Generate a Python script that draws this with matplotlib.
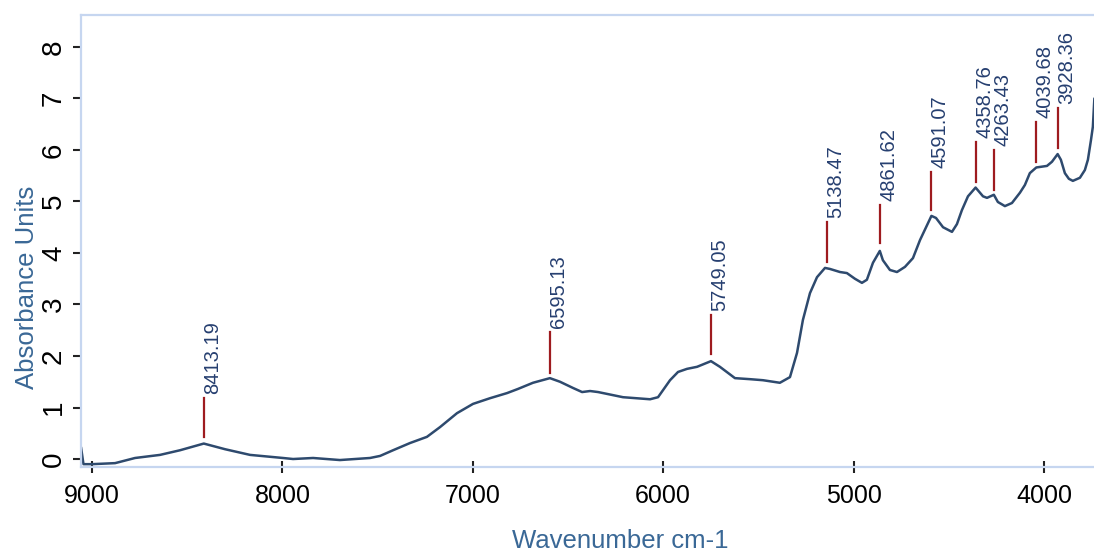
import matplotlib
matplotlib.use("Agg")
import matplotlib.pyplot as plt
import numpy as np

plt.rcParams['font.family'] = ['Liberation Sans', 'DejaVu Sans']

# spectrum (wavenumber, absorbance)
wavenumber = [9058, 9045, 9000, 8879, 8774, 8643, 8538, 8413, 8301, 8170,
              7997, 7944, 7839, 7698, 7540, 7487, 7419, 7330, 7241, 7172,
              7083, 6999, 6910, 6820, 6763, 6684, 6595, 6542, 6474, 6426,
              6384, 6342, 6211, 6069, 6027, 5964, 5922, 5875, 5822, 5749,
              5702, 5623, 5544, 5476, 5387, 5334, 5297, 5266, 5229, 5192,
              5150, 5124, 5071, 5035, 4993, 4956, 4930, 4898, 4862, 4846,
              4809, 4772, 4730, 4688, 4651, 4591, 4567, 4530, 4483, 4457,
              4431, 4399, 4359, 4320, 4299, 4263, 4242, 4205, 4168, 4126,
              4100, 4074, 4040, 3984, 3958, 3928, 3911, 3890, 3869, 3848,
              3811, 3785, 3769, 3753, 3743, 3735]
absorbance = [0.23, -0.10, -0.10, -0.08, 0.02, 0.08, 0.17, 0.30, 0.19, 0.08,
              0.02, 0.00, 0.02, -0.02, 0.02, 0.06, 0.17, 0.31, 0.43, 0.62,
              0.89, 1.07, 1.18, 1.28, 1.36, 1.48, 1.57, 1.50, 1.38, 1.30,
              1.32, 1.30, 1.20, 1.16, 1.20, 1.53, 1.69, 1.75, 1.79, 1.90,
              1.79, 1.57, 1.55, 1.53, 1.48, 1.59, 2.06, 2.70, 3.22, 3.53,
              3.71, 3.69, 3.63, 3.61, 3.50, 3.42, 3.48, 3.81, 4.04, 3.86,
              3.67, 3.63, 3.73, 3.90, 4.25, 4.72, 4.68, 4.50, 4.41, 4.56,
              4.83, 5.10, 5.27, 5.10, 5.07, 5.13, 4.99, 4.91, 4.97, 5.17,
              5.32, 5.55, 5.66, 5.69, 5.77, 5.92, 5.81, 5.55, 5.44, 5.40,
              5.46, 5.61, 5.81, 6.19, 6.45, 7.00]

# picked peaks: position, bottom and top of the marker tick
peak_pos = [8413.19, 6595.13, 5749.05, 5138.47, 4861.62, 4591.07,
            4358.76, 4263.43, 4039.68, 3928.36]
peak_lo = [0.43, 1.67, 2.04, 3.83, 4.19, 4.83, 5.38, 5.22, 5.77, 6.04]
peak_hi = [1.18, 2.47, 2.80, 4.60, 4.93, 5.57, 6.16, 6.00, 6.54, 6.82]

spine_col = '#c6d6f0'
label_col = '#3a6896'
curve_col = '#2e4a6e'
peak_col = '#9e1b1f'
text_col = '#263f70'

fig = plt.figure(figsize=(10.94, 5.52), dpi=100)
ax = fig.add_axes([81 / 1094, 85 / 552, 1.0 - 81 / 1094, 452 / 552])

ax.plot(wavenumber, absorbance, color=curve_col, lw=1.8,
        solid_joinstyle='round', solid_capstyle='round')

for p, lo, hi in zip(peak_pos, peak_lo, peak_hi):
    ax.plot([p, p], [lo, hi], color=peak_col, lw=1.6)
    ax.annotate(f'{p:.2f}', xy=(p, hi), xytext=(6.5, 3), textcoords='offset points',
                rotation=90, ha='center', va='bottom', fontsize=14.5, color=text_col)

ax.set_xlim(9058, 3737)
ax.set_ylim(-0.155, 8.62)
ax.set_xticks([9000, 8000, 7000, 6000, 5000, 4000])
ax.set_yticks(range(0, 9))

for side in ['left', 'top', 'bottom']:
    ax.spines[side].set_color(spine_col)
    ax.spines[side].set_linewidth(1.6)
ax.spines['right'].set_visible(False)

ax.tick_params(axis='x', direction='inout', length=9, width=1.5, color='#222222',
               labelsize=18, pad=8)
ax.tick_params(axis='y', direction='out', length=6, width=1.5, color='#222222',
               labelsize=20, pad=4)
for lab in ax.get_yticklabels():
    lab.set_rotation(90)
    lab.set_va('center')

fig.text(27 / 1094, 1 - 287 / 552, 'Absorbance Units', rotation=90, ha='center',
         va='center', fontsize=18.5, color=label_col)
fig.text(620 / 1094, 1 - 541 / 552, 'Wavenumber cm-1', ha='center', va='center',
         fontsize=18.5, color=label_col)

fig.savefig('out.png', dpi=100)
